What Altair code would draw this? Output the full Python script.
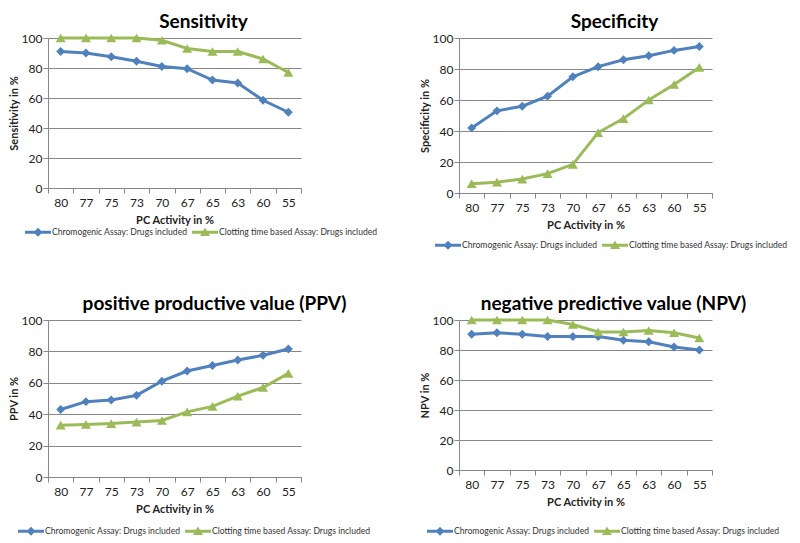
import altair as alt
import pandas as pd

pc_activity = ["80", "77", "75", "73", "70", "67", "65", "63", "60", "55"]
series_names = ["Chromogenic Assay: Drugs included", "Clotting time based Assay: Drugs included"]

sens_chrom = [91, 90, 87.5, 84.5, 81, 79.5, 72, 70, 58.5, 50.5]
sens_clot = [100, 100, 100, 100, 98.5, 93, 91, 91, 86, 77]
spec_chrom = [42, 53, 56, 62.5, 75, 81.5, 86, 88.5, 92, 94.5]
spec_clot = [6, 7, 9, 12.5, 18.5, 39, 48, 60, 70, 81]
ppv_chrom = [43, 48, 49, 52, 61, 67.5, 71, 74.5, 77.5, 81.5]
ppv_clot = [33, 33.5, 34, 35, 36, 41.5, 45, 51.5, 57, 66]
npv_chrom = [90.5, 91.5, 90.5, 89, 89, 89, 86.5, 85.5, 82, 80]
npv_clot = [100, 100, 100, 100, 97, 92, 92, 93, 91.5, 88]

metrics = {
    "sens": (sens_chrom, sens_clot),
    "spec": (spec_chrom, spec_clot),
    "ppv": (ppv_chrom, ppv_clot),
    "npv": (npv_chrom, npv_clot),
}

rows = []
for m, (a, b) in metrics.items():
    for s, vals in zip(series_names, (a, b)):
        for p, v in zip(pc_activity, vals):
            rows.append({"metric": m, "series": s, "pc": p, "value": v})
df = pd.DataFrame(rows)

colors = ["#4F81BD", "#9BBB59"]
shapes = ["diamond", "triangle-up"]
sizes = [80, 100]
# legend glyphs: a line with the series marker in its middle (unit = 5 px)
legend_paths = [
    "M-2.6,-0.3H2.6V0.3H-2.6Z M0,-0.9L0.9,0L0,0.9L-0.9,0Z",
    "M-2.6,-0.3H2.6V0.3H-2.6Z M0,-0.95L1,0.75L-1,0.75Z",
]
FONT = "Lato"


def panel(metric, title, ytitle, dx, h, lx, ly):
    base = alt.Chart(df).transform_filter(alt.datum.metric == metric)
    x = alt.X(
        "pc:N",
        sort=pc_activity,
        scale=alt.Scale(type="band", paddingInner=0, paddingOuter=0),
        bandPosition=0.5,
        axis=alt.Axis(title="PC Activity in %", tickBand="extent", labelAngle=0,
                      grid=False, tickSize=5, labelPadding=4, titlePadding=6),
    )
    y = alt.Y(
        "value:Q",
        scale=alt.Scale(domain=[0, 100]),
        axis=alt.Axis(title=ytitle, values=[0, 20, 40, 60, 80, 100], grid=True,
                      tickSize=5, labelPadding=1, titlePadding=2),
    )
    layers = []
    for s, col, shp, sz in zip(series_names, colors, shapes, sizes):
        b = base.transform_filter(alt.datum.series == s)
        layers.append(b.mark_line(color=col, strokeWidth=3).encode(x=x, y=y))
        layers.append(
            b.mark_point(shape=shp, filled=True, color=col, size=sz, opacity=1).encode(x=x, y=y)
        )
    leg_def = dict(
        orient="none", legendX=lx, legendY=ly, direction="horizontal", columns=2,
        title=None, symbolSize=100, symbolStrokeWidth=0, symbolOffset=8,
        labelFontSize=8.6, labelFont=FONT, labelColor="#333333",
        columnPadding=4, labelOffset=9, labelLimit=400,
    )
    leg = base.transform_filter("false").mark_point(filled=True, opacity=1).encode(
        x=x, y=y,
        color=alt.Color("series:N", scale=alt.Scale(domain=series_names, range=colors),
                        legend=alt.Legend(**leg_def)),
        shape=alt.Shape("series:N", scale=alt.Scale(domain=series_names, range=legend_paths),
                        legend=alt.Legend(**leg_def)),
    )
    layers.append(leg)
    return alt.layer(*layers).properties(
        width=253, height=h,
        title=alt.TitleParams(title, dx=dx, offset=0),
    )


p1 = panel("sens", "Sensitivity", "Sensitivity in %", 29, 150, -23, 189)
p2 = panel("spec", "Specificity", "Specificity in %", 29, 155, -24, 202)
p3 = panel("ppv", "positive productive value (PPV)", "PPV in %", 40, 157, -30, 206)
p4 = panel("npv", "negative predictive value (NPV)", "NPV in %", 28, 150, -32, 206)

chart = alt.concat(
    p1, p2, p3, p4, columns=2, spacing=alt.RowColnumber(row=127, column=158), bounds="flush"
).resolve_scale(
    color="independent", shape="independent"
).properties(padding={"left": 0, "top": 5, "right": 0, "bottom": 0}).configure_axis(
    labelFont=FONT, titleFont=FONT, labelFontSize=12, titleFontSize=11,
    labelColor="#222222", titleColor="#222222", titleFontWeight="bold",
    domainColor="#878787", tickColor="#878787", gridColor="#878787",
).configure_view(stroke=None).configure_title(
    font=FONT, fontSize=19, fontWeight="bold", color="black", anchor="middle"
)

chart.save("out.html", embed_options={"renderer": "svg", "actions": False})
